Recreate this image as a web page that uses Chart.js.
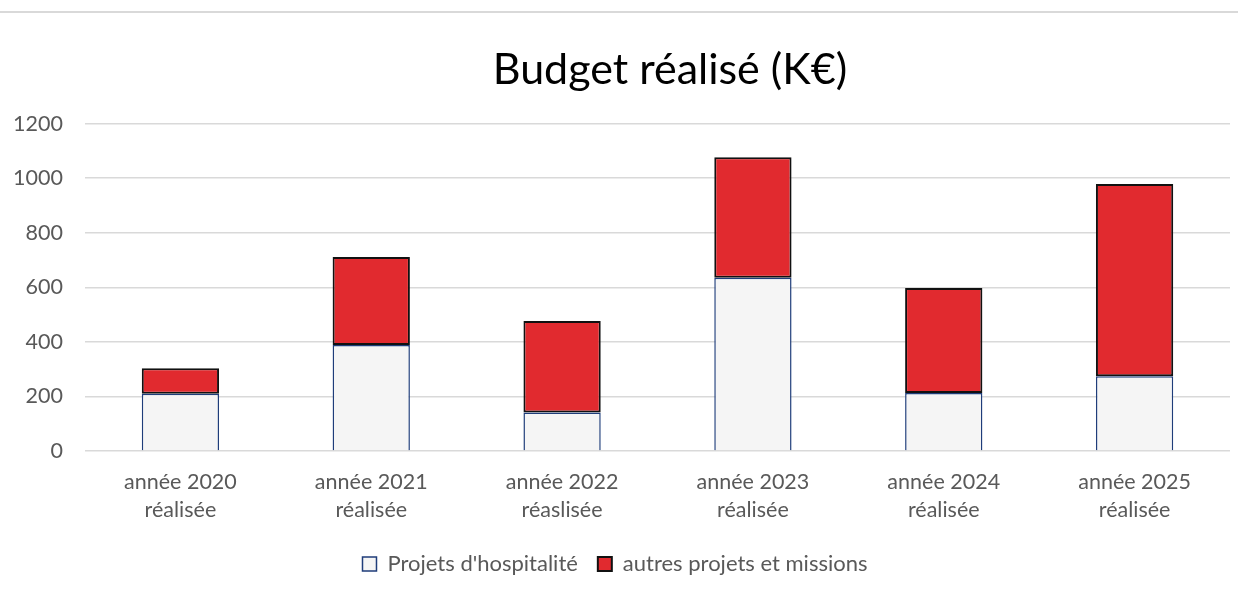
<!DOCTYPE html>
<html lang="fr">
<head>
<meta charset="utf-8">
<title>Budget réalisé (K€)</title>
<script src="https://cdn.jsdelivr.net/npm/chart.js@4.4.1/dist/chart.umd.min.js"></script>
<style>
    html, body { margin: 0; padding: 0; background: #fff; }
    #wrap { position: relative; width: 1238px; height: 596px; }
    #topline { position: absolute; left: 0; right: 0; top: 11px; border-top: 2px solid #d9d9d9; }
    canvas { display: block; }
</style>
</head>
<body>
<div id="wrap">
    <div id="topline"></div>
    <canvas id="budgetChart" width="1238" height="596"></canvas>
</div>
<script>
// Données (K€)
const categories = [
    ['année 2020', 'réalisée'],
    ['année 2021', 'réalisée'],
    ['année 2022', 'réaslisée'],
    ['année 2023', 'réalisée'],
    ['année 2024', 'réalisée'],
    ['année 2025', 'réalisée']
];
const hospitalite = [210, 389, 141, 635, 213, 274];
const autresProjets = [94, 322, 336, 442, 385, 705];
const yTicks = [0, 200, 400, 600, 800, 1000, 1200];

const FONT = 'Lato, Carlito, Calibri, sans-serif';

// le titre Excel est un peu décalé vers la droite
const titleShift = {
    id: 'titleShift',
    afterLayout(chart) {
        if (chart.titleBlock) chart.titleBlock.left += 110;
    }
};

document.addEventListener('DOMContentLoaded', function () {
    const ctx = document.getElementById('budgetChart').getContext('2d');
    new Chart(ctx, {
        type: 'bar',
        data: {
            labels: categories,
            datasets: [{
                label: "Projets d'hospitalité",
                data: hospitalite,
                backgroundColor: '#f5f5f5',
                borderColor: '#1f3d7a',
                borderWidth: 1.5,
                borderSkipped: 'start',
                categoryPercentage: 1,
                barPercentage: 0.405
            }, {
                label: 'autres projets et missions',
                data: autresProjets,
                backgroundColor: '#e12a2f',
                borderColor: '#111111',
                borderWidth: 2,
                borderSkipped: false,
                categoryPercentage: 1,
                barPercentage: 0.405
            }]
        },
        options: {
            responsive: false,
            animation: false,
            layout: { padding: { left: 0, right: 8, top: 0, bottom: 11 } },
            plugins: {
                title: {
                    display: true,
                    text: 'Budget réalisé (K€)',
                    color: '#000',
                    font: { family: FONT, size: 43, weight: 'normal' },
                    padding: { top: 44, bottom: 28 }
                },
                legend: {
                    position: 'bottom',
                    labels: {
                        color: '#595959',
                        font: { family: FONT, size: 22 },
                        boxWidth: 14,
                        boxHeight: 14,
                        padding: 20
                    }
                },
                tooltip: { enabled: false }
            },
            scales: {
                x: {
                    stacked: true,
                    grid: { display: false },
                    border: { display: false },
                    ticks: {
                        color: '#595959',
                        font: { family: FONT, size: 21.5, lineHeight: 1.3 },
                        padding: 9,
                        maxRotation: 0
                    }
                },
                y: {
                    stacked: true,
                    min: yTicks[0],
                    max: yTicks[yTicks.length - 1],
                    afterBuildTicks: function (axis) {
                        axis.ticks = yTicks.map(v => ({ value: v }));
                    },
                    afterFit: function (axis) {
                        axis.width = 85;
                    },
                    grid: { color: '#d9d9d9', lineWidth: 1.5, drawTicks: false },
                    border: { display: false },
                    ticks: {
                        color: '#595959',
                        font: { family: FONT, size: 21.5 },
                        padding: 22,
                        callback: function (value) { return String(value); }
                    }
                }
            }
        },
        plugins: [titleShift]
    });
});
</script>
</body>
</html>
